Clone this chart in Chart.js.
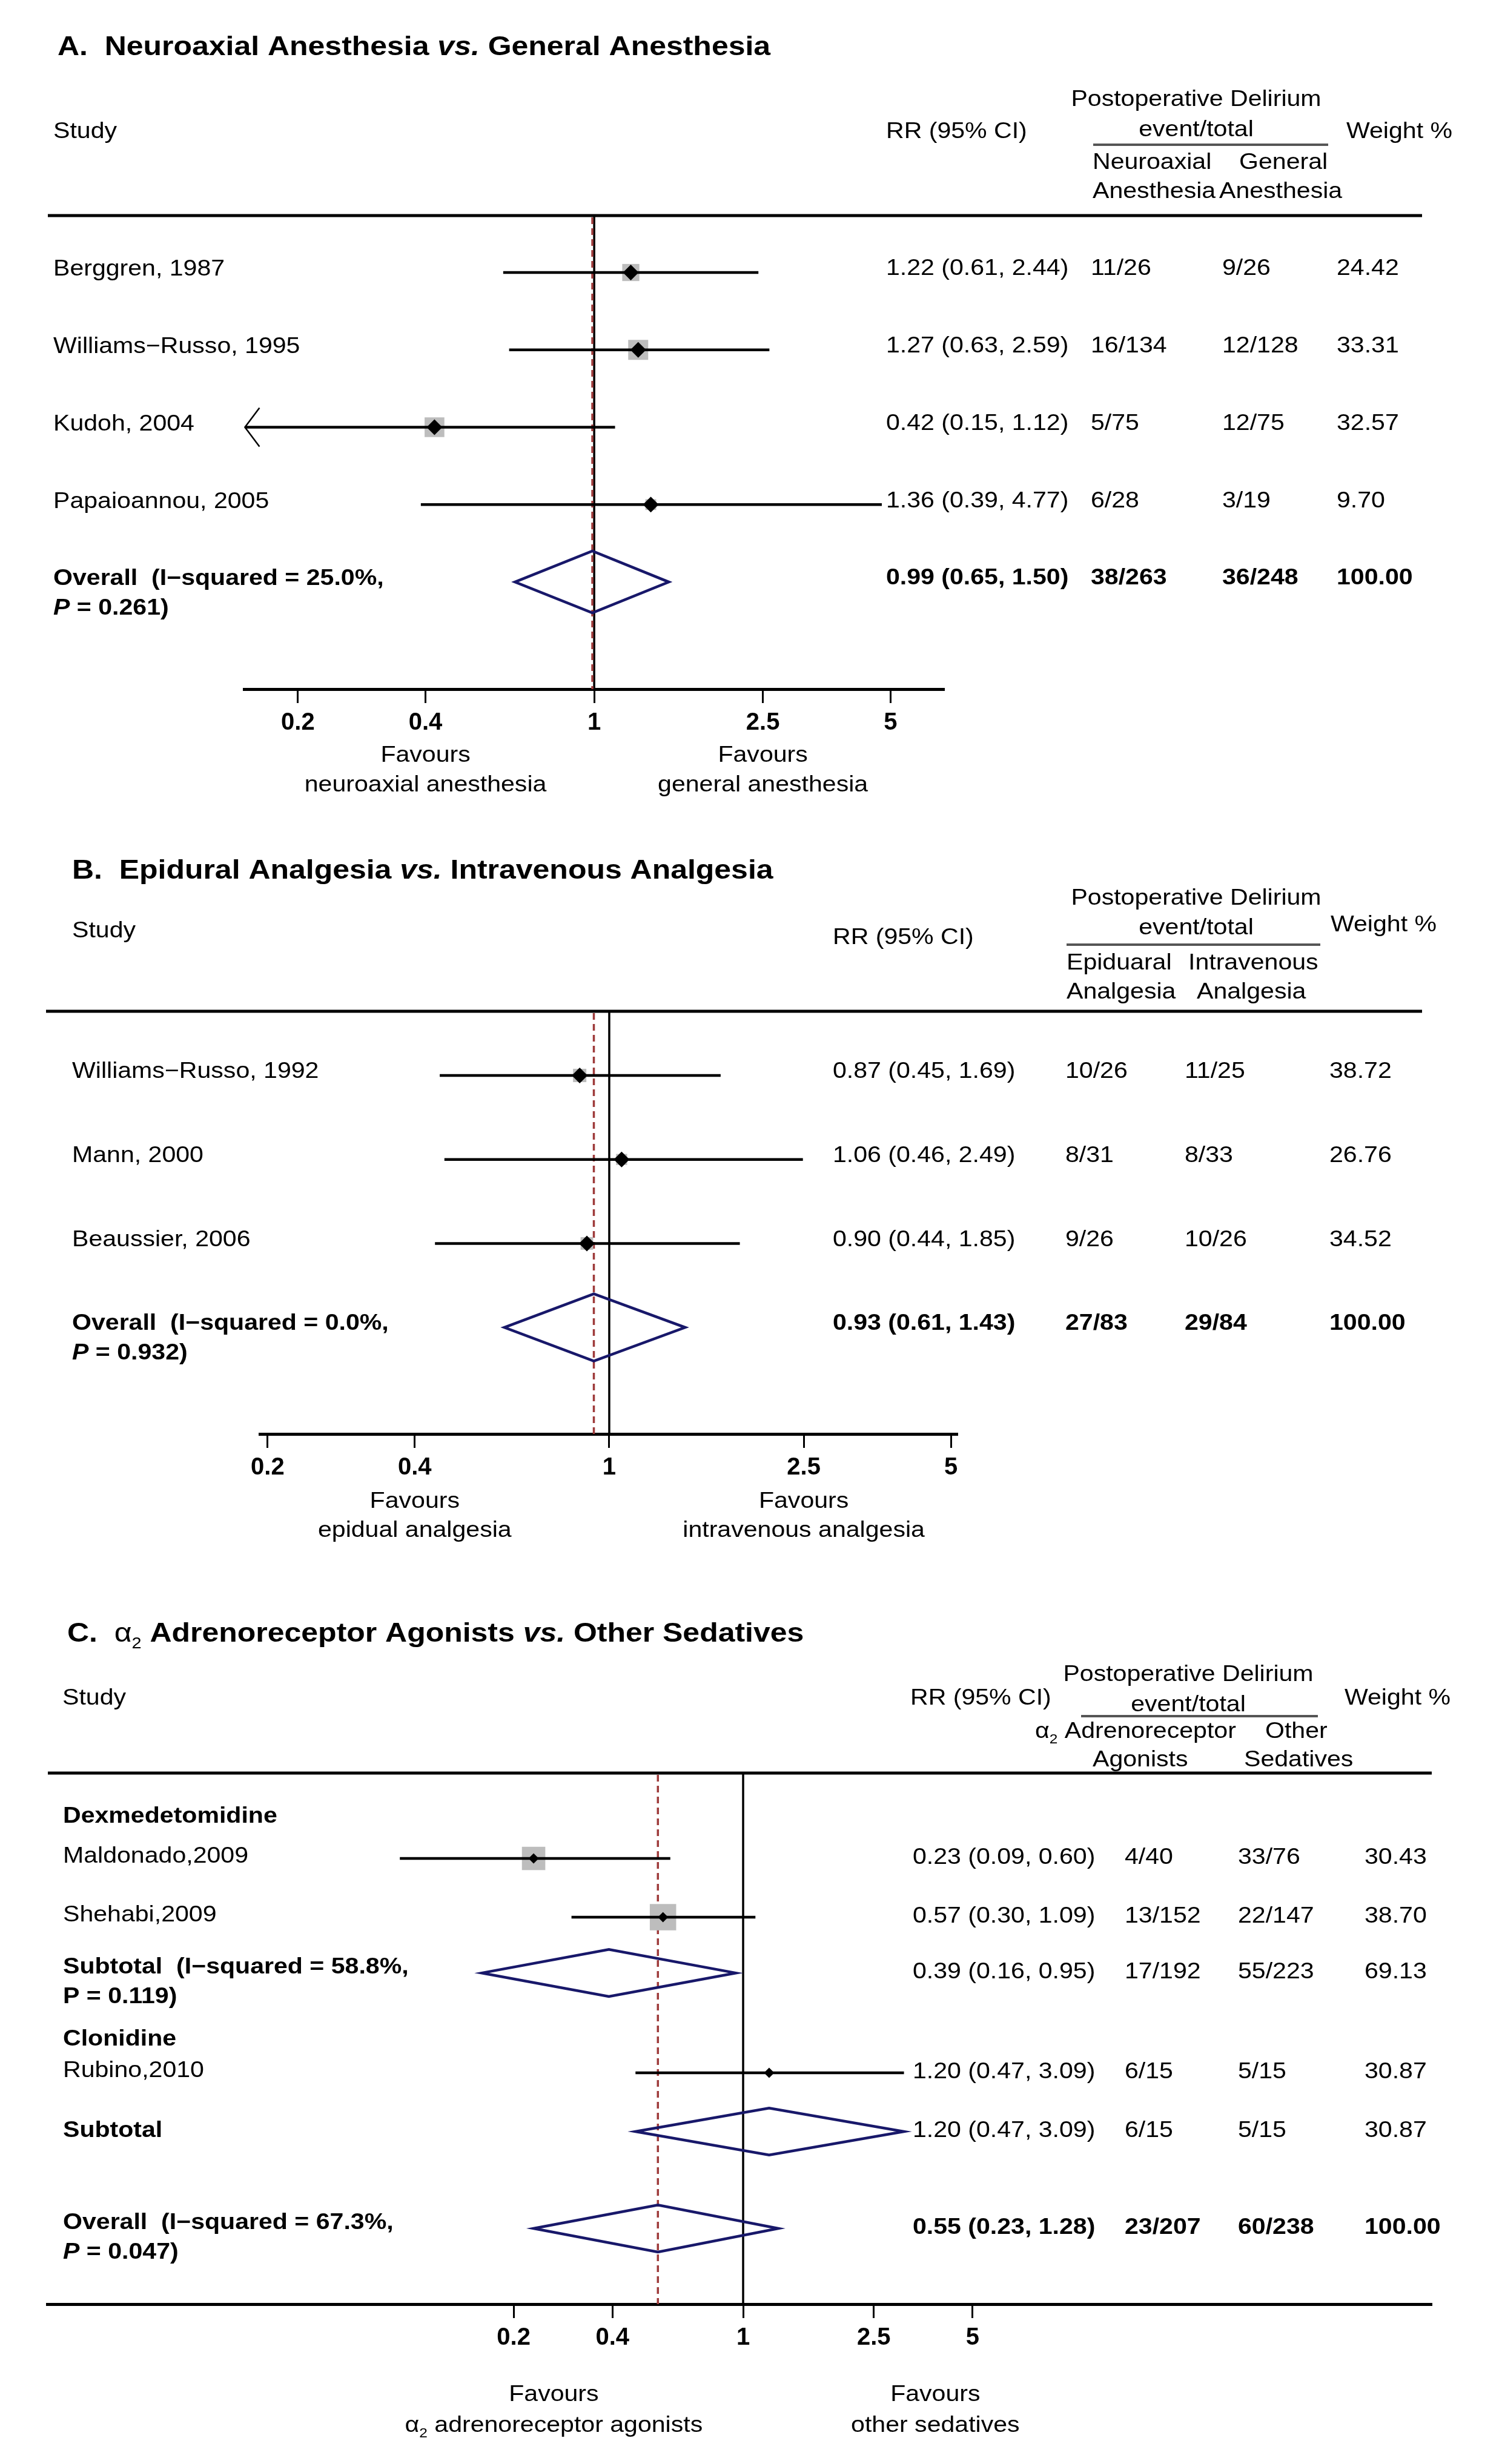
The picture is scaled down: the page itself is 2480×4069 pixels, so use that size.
<!DOCTYPE html>
<html><head><meta charset="utf-8">
<script src="https://cdn.jsdelivr.net/npm/chart.js@4.4.1/dist/chart.umd.min.js"></script>
<style>
html,body{margin:0;padding:0;background:#fff;}
#wrap{position:relative;width:2480px;height:4069px;background:#fff;overflow:hidden;}
canvas{position:absolute;left:0;top:0;}
</style></head><body>
<div id="wrap">
<canvas id="cA" width="2480" height="4069"></canvas>
<canvas id="cB" width="2480" height="4069"></canvas>
<canvas id="cC" width="2480" height="4069"></canvas>
</div>
<script>
// ---------------- DATA ----------------
const tickValues = [0.2, 0.4, 1, 2.5, 5];

// Panel A: Neuroaxial vs General anesthesia
const studiesA = ["Berggren, 1987", "Williams\u2212Russo, 1995", "Kudoh, 2004", "Papaioannou, 2005"];
const rrA = [1.22, 1.27, 0.42, 1.36];
const loA = [0.61, 0.63, 0.15, 0.39];
const hiA = [2.44, 2.59, 1.12, 4.77];
const ev1A = ["11/26", "16/134", "5/75", "6/28"];
const ev2A = ["9/26", "12/128", "12/75", "3/19"];
const wA = [24.42, 33.31, 32.57, 9.70];
const overallA = [0.99, 0.65, 1.50];
const overallEvA = ["38/263", "36/248"];
const overallStatsA = ["25.0%", "0.261"];

// Panel B: Epidural vs Intravenous analgesia
const studiesB = ["Williams\u2212Russo, 1992", "Mann, 2000", "Beaussier, 2006"];
const rrB = [0.87, 1.06, 0.90];
const loB = [0.45, 0.46, 0.44];
const hiB = [1.69, 2.49, 1.85];
const ev1B = ["10/26", "8/31", "9/26"];
const ev2B = ["11/25", "8/33", "10/26"];
const wB = [38.72, 26.76, 34.52];
const overallB = [0.93, 0.61, 1.43];
const overallEvB = ["27/83", "29/84"];
const overallStatsB = ["0.0%", "0.932"];

// Panel C: alpha2 agonists vs other sedatives
const groupsC = ["Dexmedetomidine", "Clonidine"];
const studiesC = ["Maldonado,2009", "Shehabi,2009", "Rubino,2010"];
const groupOfC = [0, 0, 1];
const rrC = [0.23, 0.57, 1.20];
const loC = [0.09, 0.30, 0.47];
const hiC = [0.60, 1.09, 3.09];
const ev1C = ["4/40", "13/152", "6/15"];
const ev2C = ["33/76", "22/147", "5/15"];
const wC = [30.43, 38.70, 30.87];
const subRrC = [0.39, 1.20];
const subLoC = [0.16, 0.47];
const subHiC = [0.95, 3.09];
const subEv1C = ["17/192", "6/15"];
const subEv2C = ["55/223", "5/15"];
const subWC = [69.13, 30.87];
const subStatsC = [["58.8%", "0.119"], null];
const overallC = [0.55, 0.23, 1.28];
const overallEvC = ["23/207", "60/238"];
const overallStatsC = ["67.3%", "0.047"];

// ---------------- STYLE / LAYOUT ----------------
const W = 2480, H = 4069, AXH = 120;
const FONT = '"Liberation Sans", Arial, Helvetica, sans-serif';
const SX = 1.11, BODY = 37, TITLE = 45;
const NAVY = '#18186a', DASH = '#9e3b3b', BOXC = '#bdbdbd';
const DIAMOND_HALF = 0.4; // half-height of summary diamonds, in row units

function fnt(style, size) { return style + ' ' + size + 'px ' + FONT; }
function drawParts(ctx, x, y, parts, align, size) {
  size = size || BODY;
  let total = 0;
  const ws = parts.map(p => { ctx.font = fnt(p.s || 'normal', p.size || size); const w = ctx.measureText(p.t).width * SX; total += w; return w; });
  let cx = align === 'center' ? x - total / 2 : (align === 'right' ? x - total : x);
  const base = y + 0.358 * size;
  parts.forEach((p, i) => {
    ctx.save();
    ctx.font = fnt(p.s || 'normal', p.size || size);
    ctx.fillStyle = '#000'; ctx.textAlign = 'left'; ctx.textBaseline = 'alphabetic';
    ctx.translate(cx, base + (p.dy || 0)); ctx.scale(SX, 1);
    ctx.fillText(p.t, 0, 0);
    ctx.restore();
    cx += ws[i];
  });
}
const T = (t, s) => ({t: t, s: s || 'normal'});
const ciText = (r, l, h) => r.toFixed(2) + ' (' + l.toFixed(2) + ', ' + h.toFixed(2) + ')';

function studyItems(names, rr, lo, hi, e1, e2, w, rows, boxes) {
  return names.map((n, i) => ({kind: 'study', label: n, rr: rr[i], lo: lo[i], hi: hi[i], ev1: e1[i], ev2: e2[i], w: w[i], row: rows[i], box: boxes ? boxes[i] : true}));
}

// Panel specs
const PA = {
  id: 'A', area: {left: 403, right: 1558, top: 356, bottom: 1138}, xr: [0.1493, 6.672], yr: [0.264, 6.385],
  rule: [79, 2348], labelX: 88, cols: [1463, 1801, 2018, 2207], labOff: -8, colOff: -9, sumOff: -8,
  markR: 13, boxK: 5.72,
  underline: [1805, 2193, 239],
  header: [
    {x: 95, y: 75, size: TITLE, parts: [T('A.  Neuroaxial Anesthesia ', 'bold'), T('vs.', 'italic bold'), T(' General Anesthesia', 'bold')]},
    {x: 88, y: 215, parts: [T('Study')]},
    {x: 1463, y: 215, parts: [T('RR (95% CI)')]},
    {x: 1975, y: 162, align: 'center', parts: [T('Postoperative Delirium')]},
    {x: 1975, y: 212, align: 'center', parts: [T('event/total')]},
    {x: 1804, y: 266, parts: [T('Neuroaxial')]},
    {x: 2046, y: 266, parts: [T('General')]},
    {x: 1804, y: 314, parts: [T('Anesthesia')]},
    {x: 2013, y: 314, parts: [T('Anesthesia')]},
    {x: 2223, y: 215, parts: [T('Weight %')]}
  ],
  favours: {vals: [0.4, 2.5], y: [1245, 1294], lines: [[[T('Favours')], [T('neuroaxial anesthesia')]], [[T('Favours')], [T('general anesthesia')]]]},
  items: studyItems(studiesA, rrA, loA, hiA, ev1A, ev2A, wA, [1, 2, 3, 4]).concat([
    {kind: 'summary', overall: true, rr: overallA[0], lo: overallA[1], hi: overallA[2], ev1: overallEvA[0], ev2: overallEvA[1], w: 100, row: 5, bold: true,
     line1: [T('Overall  (I\u2212squared = ' + overallStatsA[0] + ',', 'bold')], line2: [T('P', 'italic bold'), T(' = ' + overallStatsA[1] + ')', 'bold')]}
  ])
};

const PB = {
  id: 'B', area: {left: 429, right: 1580, top: 1670, bottom: 2368}, xr: [0.1928, 5.144], yr: [0.236, 5.268],
  rule: [76, 2348], labelX: 119, cols: [1375, 1759, 1956, 2195], labOff: -9, colOff: -9, sumOff: -9,
  markR: 13, boxK: 3.54,
  underline: [1761, 2180, 1560],
  header: [
    {x: 119, y: 1435, size: TITLE, parts: [T('B.  Epidural Analgesia ', 'bold'), T('vs.', 'italic bold'), T(' Intravenous Analgesia', 'bold')]},
    {x: 119, y: 1535, parts: [T('Study')]},
    {x: 1375, y: 1546, parts: [T('RR (95% CI)')]},
    {x: 1975, y: 1481, align: 'center', parts: [T('Postoperative Delirium')]},
    {x: 1975, y: 1530, align: 'center', parts: [T('event/total')]},
    {x: 1761, y: 1588, parts: [T('Epiduaral')]},
    {x: 1962, y: 1588, parts: [T('Intravenous')]},
    {x: 1761, y: 1636, parts: [T('Analgesia')]},
    {x: 1976, y: 1636, parts: [T('Analgesia')]},
    {x: 2197, y: 1525, parts: [T('Weight %')]}
  ],
  favours: {vals: [0.4, 2.5], y: [2477, 2525], lines: [[[T('Favours')], [T('epidual analgesia')]], [[T('Favours')], [T('intravenous analgesia')]]]},
  items: studyItems(studiesB, rrB, loB, hiB, ev1B, ev2B, wB, [1, 2, 3]).concat([
    {kind: 'summary', overall: true, rr: overallB[0], lo: overallB[1], hi: overallB[2], ev1: overallEvB[0], ev2: overallEvB[1], w: 100, row: 4, bold: true,
     line1: [T('Overall  (I\u2212squared = ' + overallStatsB[0] + ',', 'bold')], line2: [T('P', 'italic bold'), T(' = ' + overallStatsB[1] + ')', 'bold')]}
  ])
};

const alpha2 = (size, sub, dy) => [T('\u03b1'), {t: '2', s: 'normal', size: sub, dy: dy}];
const studyRowsC = [1, 2, 4.65];
const subRowsC = [2.95, 5.65];
const groupRowsC = [0.25, 4.05];
const itemsC = [];
groupsC.forEach((g, gi) => {
  itemsC.push({kind: 'group', label: g, row: groupRowsC[gi]});
  studiesC.forEach((n, i) => {
    if (groupOfC[i] !== gi) return;
    itemsC.push({kind: 'study', label: n, rr: rrC[i], lo: loC[i], hi: hiC[i], ev1: ev1C[i], ev2: ev2C[i], w: wC[i], row: studyRowsC[i], box: gi === 0});
  });
  const st = subStatsC[gi];
  itemsC.push({kind: 'summary', rr: subRrC[gi], lo: subLoC[gi], hi: subHiC[gi], ev1: subEv1C[gi], ev2: subEv2C[gi], w: subWC[gi], row: subRowsC[gi], bold: false,
    line1: st ? [T('Subtotal  (I\u2212squared = ' + st[0] + ',', 'bold')] : [T('Subtotal', 'bold')],
    line2: st ? [T('P = ' + st[1] + ')', 'bold')] : null});
});
itemsC.push({kind: 'summary', overall: true, rr: overallC[0], lo: overallC[1], hi: overallC[2], ev1: overallEvC[0], ev2: overallEvC[1], w: 100, row: 7.3, bold: true,
  line1: [T('Overall  (I\u2212squared = ' + overallStatsC[0] + ',', 'bold')], line2: [T('P', 'italic bold'), T(' = ' + overallStatsC[1] + ')', 'bold')]});

const PC = {
  id: 'C', area: {left: 78, right: 2363, top: 2928, bottom: 3805}, xr: [0.007588, 124.7], yr: [-0.454, 8.588],
  rule: [79, 2364], labelX: 104, cols: [1507, 1857, 2044, 2253], labOff: -6, colOff: -4, sumOff: -12, sumOff1: -4,
  markR: 8.5, boxK: 7.0,
  underline: [1785, 2176, 2834],
  header: [
    {x: 111, y: 2695, size: TITLE, parts: [T('C.  ', 'bold')].concat(alpha2(TITLE, 26, 11)).concat([T(' Adrenoreceptor Agonists ', 'bold'), T('vs.', 'italic bold'), T(' Other Sedatives', 'bold')])},
    {x: 103, y: 2802, parts: [T('Study')]},
    {x: 1503, y: 2802, parts: [T('RR (95% CI)')]},
    {x: 1962, y: 2763, align: 'center', parts: [T('Postoperative Delirium')]},
    {x: 1962, y: 2813, align: 'center', parts: [T('event/total')]},
    {x: 1709, y: 2857, parts: alpha2(BODY, 22, 9).concat([T(' Adrenoreceptor')])},
    {x: 2089, y: 2857, parts: [T('Other')]},
    {x: 1804, y: 2904, parts: [T('Agonists')]},
    {x: 2054, y: 2904, parts: [T('Sedatives')]},
    {x: 2220, y: 2802, parts: [T('Weight %')]}
  ],
  favours: {vals: [0.265, 3.85], y: [3952, 4003], lines: [[[T('Favours')], alpha2(BODY, 22, 9).concat([T(' adrenoreceptor agonists')])], [[T('Favours')], [T('other sedatives')]]]},
  items: itemsC
};

function panelPlugin(P) {
  return {
    id: 'forest' + P.id,
    beforeDatasetsDraw(chart) {
      const c = chart.ctx, xs = chart.scales.x, ca = chart.chartArea;
      c.save();
      c.strokeStyle = '#000'; c.lineWidth = 5;
      c.beginPath(); c.moveTo(P.rule[0], ca.top); c.lineTo(P.rule[1], ca.top); c.stroke();
      const x1 = xs.getPixelForValue(1);
      c.lineWidth = 3.5;
      c.beginPath(); c.moveTo(x1, ca.top + 2); c.lineTo(x1, ca.bottom); c.stroke();
      const ov = P.items.find(it => it.overall);
      const xo = xs.getPixelForValue(ov.rr);
      c.strokeStyle = DASH; c.lineWidth = 3.5; c.setLineDash([11, 7]);
      c.beginPath(); c.moveTo(xo, ca.top + 3); c.lineTo(xo, ca.bottom); c.stroke();
      c.restore();
    },
    afterDatasetsDraw(chart) {
      const c = chart.ctx, xs = chart.scales.x, ys = chart.scales.y;
      c.save();
      P.items.forEach(it => {
        if (it.kind === 'summary') {
          c.strokeStyle = NAVY; c.lineWidth = 4.5; c.lineJoin = 'miter';
          c.beginPath();
          c.moveTo(xs.getPixelForValue(it.lo), ys.getPixelForValue(it.row));
          c.lineTo(xs.getPixelForValue(it.rr), ys.getPixelForValue(it.row - DIAMOND_HALF));
          c.lineTo(xs.getPixelForValue(it.hi), ys.getPixelForValue(it.row));
          c.lineTo(xs.getPixelForValue(it.rr), ys.getPixelForValue(it.row + DIAMOND_HALF));
          c.closePath(); c.stroke();
        } else if (it.kind === 'study' && it.lo <= xs.min * 1.02) {
          // arrow for CI truncated at the axis limit
          const tx = xs.getPixelForValue(it.lo), ty = ys.getPixelForValue(it.row);
          c.strokeStyle = '#000'; c.lineWidth = 2.5;
          c.beginPath(); c.moveTo(tx + 24, ty - 32); c.lineTo(tx, ty); c.lineTo(tx + 24, ty + 32); c.stroke();
        }
      });
      c.restore();
    },
    afterDraw(chart) {
      const c = chart.ctx, xs = chart.scales.x, ys = chart.scales.y;
      c.save();
      P.header.forEach(h => drawParts(c, h.x, h.y, h.parts, h.align || 'left', h.size || BODY));
      c.strokeStyle = '#555'; c.lineWidth = 4;
      c.beginPath(); c.moveTo(P.underline[0], P.underline[2]); c.lineTo(P.underline[1], P.underline[2]); c.stroke();
      P.items.forEach(it => {
        const y = ys.getPixelForValue(it.row);
        if (it.kind === 'group') {
          drawParts(c, P.labelX, y, [T(it.label, 'bold')], 'left');
          return;
        }
        if (it.kind === 'study') {
          drawParts(c, P.labelX, y + P.labOff, [T(it.label)], 'left');
        } else {
          const off = it.line2 ? P.sumOff : (P.sumOff1 !== undefined ? P.sumOff1 : P.sumOff);
          drawParts(c, P.labelX, y + off, it.line1, 'left');
          if (it.line2) drawParts(c, P.labelX, y + off + 49, it.line2, 'left');
        }
        const st = it.bold ? 'bold' : 'normal';
        const cy = y + P.colOff;
        drawParts(c, P.cols[0], cy, [T(ciText(it.rr, it.lo, it.hi), st)], 'left');
        drawParts(c, P.cols[1], cy, [T(it.ev1, st)], 'left');
        drawParts(c, P.cols[2], cy, [T(it.ev2, st)], 'left');
        drawParts(c, P.cols[3], cy, [T(it.w.toFixed(2), st)], 'left');
      });
      P.favours.vals.forEach((v, i) => {
        const fx = xs.getPixelForValue(v);
        P.favours.lines[i].forEach((ln, j) => drawParts(c, fx, P.favours.y[j], ln, 'center'));
      });
      c.restore();
    }
  };
}

function buildPanel(canvasId, P) {
  const studies = P.items.filter(it => it.kind === 'study');
  const datasets = [];
  datasets.push({
    label: 'weight box', data: studies.map(it => ({x: it.rr, y: it.row})),
    pointStyle: 'rect', pointRadius: studies.map(it => it.box ? P.boxK * Math.sqrt(it.w) / (2 * Math.SQRT1_2) : 0),
    backgroundColor: BOXC, borderWidth: 0, pointBorderWidth: 0, order: 3, clip: false
  });
  studies.forEach(it => datasets.push({
    label: 'CI ' + it.label, showLine: true, data: [{x: it.lo, y: it.row}, {x: it.hi, y: it.row}],
    borderColor: '#000', borderWidth: 4.5, borderCapStyle: 'butt', pointRadius: 0, order: 2, clip: false, tension: 0
  }));
  datasets.push({
    label: 'estimate', data: studies.map(it => ({x: it.rr, y: it.row})),
    pointStyle: 'rectRot', pointRadius: P.markR, backgroundColor: '#000', borderWidth: 0, pointBorderWidth: 0, order: 1, clip: false
  });
  return new Chart(document.getElementById(canvasId).getContext('2d'), {
    type: 'scatter',
    data: {datasets: datasets},
    options: {
      responsive: false, animation: false, devicePixelRatio: 1, events: [],
      layout: {padding: {left: P.area.left, right: W - P.area.right, top: P.area.top, bottom: H - P.area.bottom - AXH}},
      plugins: {legend: {display: false}, tooltip: {enabled: false}, title: {display: false}},
      scales: {
        x: {
          type: 'logarithmic', min: P.xr[0], max: P.xr[1], bounds: 'data', offset: false,
          afterBuildTicks: s => { s.ticks = tickValues.map(v => ({value: v})); },
          afterFit: s => { s.height = AXH; },
          ticks: {autoSkip: false, maxRotation: 0, minRotation: 0, padding: 9, color: '#000',
                  font: {family: 'Liberation Sans', size: 40, weight: 'bold'}, callback: v => String(v)},
          grid: {display: true, drawOnChartArea: false, drawTicks: true, tickLength: 23, tickWidth: 3, tickColor: '#000', color: '#000', lineWidth: 3},
          border: {display: true, color: '#000', width: 5}
        },
        y: {type: 'linear', reverse: true, min: P.yr[0], max: P.yr[1], display: false}
      }
    },
    plugins: [panelPlugin(P)]
  });
}

buildPanel('cA', PA);
buildPanel('cB', PB);
buildPanel('cC', PC);
</script>
</body></html>
